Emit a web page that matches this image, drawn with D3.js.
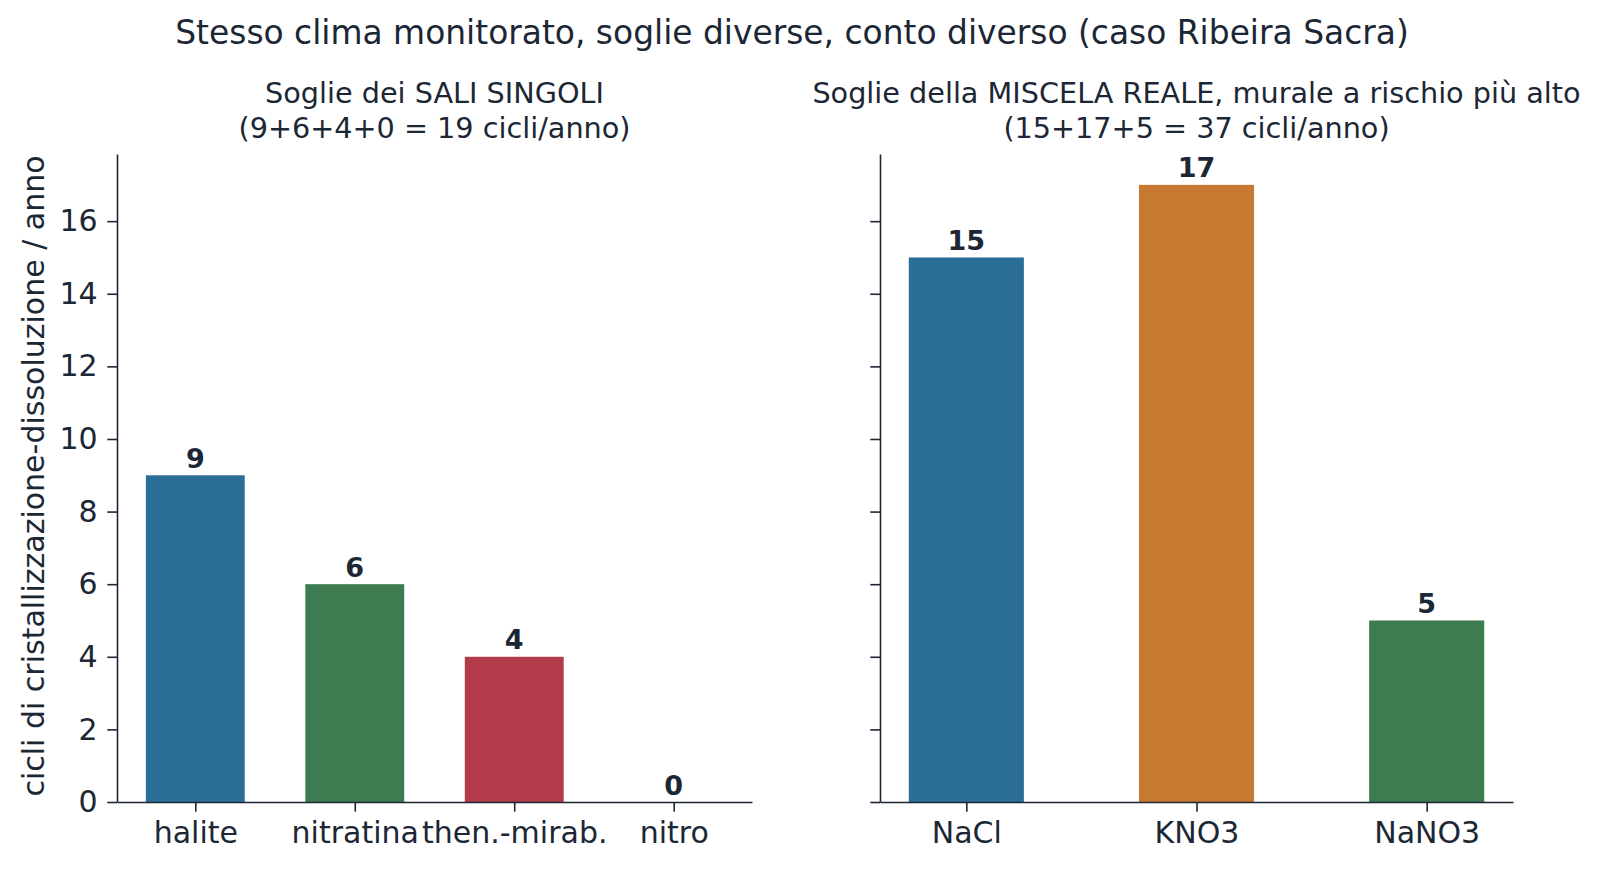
<!DOCTYPE html>
<html>
  <head>
    <title>Ribeira Sacra cycles</title>
    <script src="https://d3js.org/d3.v7.min.js"></script>
    <style>
      body { margin: 0; background: #ffffff; }
      text { font-family: "DejaVu Sans", sans-serif; }
    </style>
  </head>
  <body>
    <svg width="1600" height="870" id="mainsvg"></svg>
    <script>
        // data
        const leftSalts = ['halite', 'nitratina', 'then.-mirab.', 'nitro'];
        const leftCycles = [9, 6, 4, 0];
        const rightSalts = ['NaCl', 'KNO3', 'NaNO3'];
        const rightCycles = [15, 17, 5];
        const yTicks = [0, 2, 4, 6, 8, 10, 12, 14, 16];

        const mainTitle = 'Stesso clima monitorato, soglie diverse, conto diverso (caso Ribeira Sacra)';
        const leftTitle = ['Soglie dei SALI SINGOLI', '(9+6+4+0 = 19 cicli/anno)'];
        const rightTitle = ['Soglie della MISCELA REALE, murale a rischio più alto', '(15+17+5 = 37 cicli/anno)'];
        const yAxisLabel = 'cicli di cristallizzazione-dissoluzione / anno';

        // colours
        const blue = '#2b6f97', green = '#3d7b51', red = '#b33a48', orange = '#c67a31';
        const leftColors = [blue, green, red, blue];
        const rightColors = [blue, orange, green];
        const ink = '#1c2735';

        const svg = d3.select('#mainsvg');
        const plotTop = 154, plotBottom = 802;
        const tickLen = 9.7, tickPad = 9.7;
        const tickFont = 30;

        // shared y scale (matplotlib-like 5% headroom over max)
        const yMax = d3.max(leftCycles.concat(rightCycles)) * 1.05;
        const yScale = d3.scaleLinear().domain([0, yMax]).range([plotBottom, plotTop]);

        svg.append('text')
            .attr('x', 792).attr('y', 44)
            .attr('text-anchor', 'middle')
            .attr('font-size', 32.9)
            .attr('fill', ink)
            .text(mainTitle);

        const drawPanel = function(names, values, colors, x0, x1, barW, titleLines, showYLabels){
            const n = names.length;
            const padX = 0.05 * (n - 1 + barW);
            const xScale = d3.scaleLinear()
                .domain([-barW / 2 - padX, n - 1 + barW / 2 + padX])
                .range([x0, x1]);
            const step = xScale(1) - xScale(0);

            const g = svg.append('g');

            g.selectAll('rect').data(values).enter().append('rect')
                .attr('x', (d, i) => xScale(i - barW / 2))
                .attr('width', step * barW)
                .attr('y', d => yScale(d))
                .attr('height', d => yScale(0) - yScale(d))
                .attr('fill', (d, i) => colors[i]);

            g.selectAll('.vlabel').data(values).enter().append('text')
                .attr('class', 'vlabel')
                .attr('x', (d, i) => xScale(i))
                .attr('y', d => yScale(d) - 7.5)
                .attr('text-anchor', 'middle')
                .attr('font-size', 27)
                .attr('font-weight', 'bold')
                .attr('fill', ink)
                .text(d => d);

            const yAxis = d3.axisLeft(yScale)
                .tickValues(yTicks)
                .tickSize(tickLen)
                .tickSizeOuter(0)
                .tickPadding(tickPad)
                .tickFormat(showYLabels ? d3.format('d') : () => '');
            const yAxisGroup = g.append('g')
                .attr('transform', `translate(${x0}, 0)`)
                .call(yAxis);

            const xAxis = d3.axisBottom(xScale)
                .tickValues(d3.range(n))
                .tickSize(tickLen)
                .tickSizeOuter(0)
                .tickPadding(tickPad)
                .tickFormat(i => names[i]);
            const xAxisGroup = g.append('g')
                .attr('transform', `translate(0, ${plotBottom})`)
                .call(xAxis);

            [yAxisGroup, xAxisGroup].forEach(ax => {
                ax.attr('font-family', null).attr('font-size', null);
                ax.selectAll('text').attr('font-size', tickFont).attr('fill', ink);
                ax.selectAll('line').attr('stroke', ink).attr('stroke-width', 1.6);
                ax.select('.domain').attr('stroke', ink).attr('stroke-width', 1.6);
            });

            const cx = (x0 + x1) / 2;
            g.append('text')
                .attr('x', cx).attr('y', 103)
                .attr('text-anchor', 'middle')
                .attr('font-size', 28.7)
                .attr('fill', ink)
                .selectAll('tspan').data(titleLines).enter().append('tspan')
                .attr('x', cx)
                .attr('dy', (d, i) => i === 0 ? 0 : 34.7)
                .text(d => d);
        };

        drawPanel(leftSalts, leftCycles, leftColors, 117, 752, 0.62, leftTitle, true);
        drawPanel(rightSalts, rightCycles, rightColors, 880, 1513, 0.5, rightTitle, false);

        svg.append('text')
            .attr('transform', `translate(44, ${(plotTop + plotBottom) / 2 - 2}) rotate(-90)`)
            .attr('text-anchor', 'middle')
            .attr('font-size', 30)
            .attr('fill', ink)
            .text(yAxisLabel);
    </script>
  </body>
</html>
